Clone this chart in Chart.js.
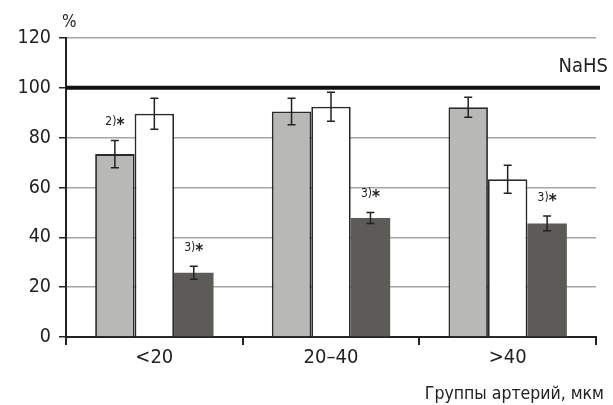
<!DOCTYPE html>
<html>
<head>
<meta charset="utf-8">
<script src="https://cdn.jsdelivr.net/npm/chart.js"></script>
<style>
  html, body { margin: 0; padding: 0; background: #fff; }
  #chart { display: block; }
</style>
</head>
<body>
<canvas id="chart" width="613" height="405"></canvas>
<script>
const categories = ['<20', '20–40', '>40'];
const grayValues = [73.4, 90.5, 92.2];
const grayErrors = [5.5, 5.3, 4.0];
const whiteValues = [89.6, 92.4, 63.3];
const whiteErrors = [6.2, 5.8, 5.6];
const darkValues = [25.8, 47.8, 45.6];
const darkErrors = [2.6, 2.2, 3.0];
const darkMarks = ['3)', '3)', '3)'];
const grayMarks = ['2)', '', ''];
const yTicks = [0, 20, 40, 60, 80, 100, 120];
const controlLevel = 100;

const FONT = '"DejaVu Sans", sans-serif';
const STRETCH = 'condensed'; // goes into the canvas font shorthand
const errs = [grayErrors, whiteErrors, darkErrors];
const marks = [grayMarks, [], darkMarks];

const extrasPlugin = {
    id: 'extras',
    afterDatasetsDraw(chart) {
        const ctx = chart.ctx;
        const y = chart.scales.y;
        const area = chart.chartArea;

        // control line (NaHS)
        ctx.save();
        ctx.strokeStyle = '#111';
        ctx.lineWidth = 4;
        ctx.beginPath();
        ctx.moveTo(area.left, y.getPixelForValue(controlLevel));
        ctx.lineTo(area.right + 4, y.getPixelForValue(controlLevel));
        ctx.stroke();

        // error bars + marks
        chart.data.datasets.forEach((ds, di) => {
            const meta = chart.getDatasetMeta(di);
            meta.data.forEach((bar, i) => {
                const v = ds.data[i];
                const e = errs[di][i];
                const yTop = y.getPixelForValue(v + e);
                const yBot = y.getPixelForValue(v - e);
                ctx.strokeStyle = '#222';
                ctx.lineWidth = 1.5;
                ctx.beginPath();
                ctx.moveTo(bar.x, yTop); ctx.lineTo(bar.x, yBot);
                ctx.moveTo(bar.x - 4, yTop); ctx.lineTo(bar.x + 4, yTop);
                ctx.moveTo(bar.x - 4, yBot); ctx.lineTo(bar.x + 4, yBot);
                ctx.stroke();

                const m = marks[di][i];
                if (m) {
                    ctx.fillStyle = '#222';
                    ctx.textBaseline = 'alphabetic';
                    ctx.font = STRETCH + ' 12px ' + FONT;
                    const w1 = ctx.measureText(m).width;
                    ctx.font = STRETCH + ' bold 17px ' + FONT;
                    const w2 = ctx.measureText('*').width;
                    const x0 = bar.x - (w1 + w2) / 2;
                    const by = yTop - 15;
                    ctx.font = STRETCH + ' 12px ' + FONT;
                    ctx.textAlign = 'left';
                    ctx.fillText(m, x0, by);
                    ctx.font = STRETCH + ' bold 17px ' + FONT;
                    ctx.fillText('*', x0 + w1, by + 5);
                }
            });
        });

        // texts
        ctx.fillStyle = '#222';
        ctx.font = STRETCH + ' 20px ' + FONT;
        ctx.textBaseline = 'middle';
        ctx.textAlign = 'right';
        ctx.fillText('NaHS', 608, 67);
        ctx.textAlign = 'left';
        ctx.font = STRETCH + ' 17px ' + FONT;
        ctx.fillText('%', 62, 23);
        ctx.font = STRETCH + ' 17.5px ' + FONT;
        ctx.textAlign = 'right';
        ctx.fillText('Группы артерий, мкм', 604, 394);
        ctx.restore();
    }
};

new Chart(document.getElementById('chart'), {
    type: 'bar',
    data: {
        labels: categories,
        datasets: [
            {
                label: 'gray',
                data: grayValues,
                backgroundColor: '#b8b8b6',
                borderColor: '#2a2a2a',
                borderWidth: 1.8
            },
            {
                label: 'white',
                data: whiteValues,
                backgroundColor: '#ffffff',
                borderColor: '#2a2a2a',
                borderWidth: 1.8
            },
            {
                label: 'dark',
                data: darkValues,
                backgroundColor: '#5c5b57',
                borderColor: '#5c5b57',
                borderWidth: 0
            }
        ]
    },
    options: {
        responsive: false,
        animation: false,
        categoryPercentage: 0.67,
        barPercentage: 1.0,
        layout: { padding: { top: 38, right: 17, left: 0, bottom: 0 } },
        plugins: {
            legend: { display: false },
            tooltip: { enabled: false }
        },
        scales: {
            x: {
                offset: true,
                grid: {
                    offset: true,
                    drawOnChartArea: false,
                    drawTicks: true,
                    tickLength: 8,
                    color: '#222',
                    lineWidth: 2
                },
                border: { color: '#222', width: 2 },
                ticks: {
                    color: '#222',
                    font: { family: FONT, size: 20, weight: STRETCH },
                    padding: 1
                },
                afterFit(scale) { scale.height = 405 - 337; }
            },
            y: {
                min: 0,
                max: 120,
                afterBuildTicks(scale) { scale.ticks = yTicks.map(v => ({ value: v })); },
                grid: {
                    color: (c) => c.tick && c.tick.value === 0 ? '#222' : '#a5a5a5',
                    lineWidth: 1.5,
                    tickLength: 7,
                    tickColor: '#222'
                },
                border: { color: '#222', width: 2 },
                ticks: {
                    color: '#222',
                    font: { family: FONT, size: 19.5, weight: STRETCH },
                    padding: 8
                },
                afterFit(scale) { scale.width = 66; }
            }
        }
    },
    plugins: [extrasPlugin]
});
</script>
</body>
</html>
